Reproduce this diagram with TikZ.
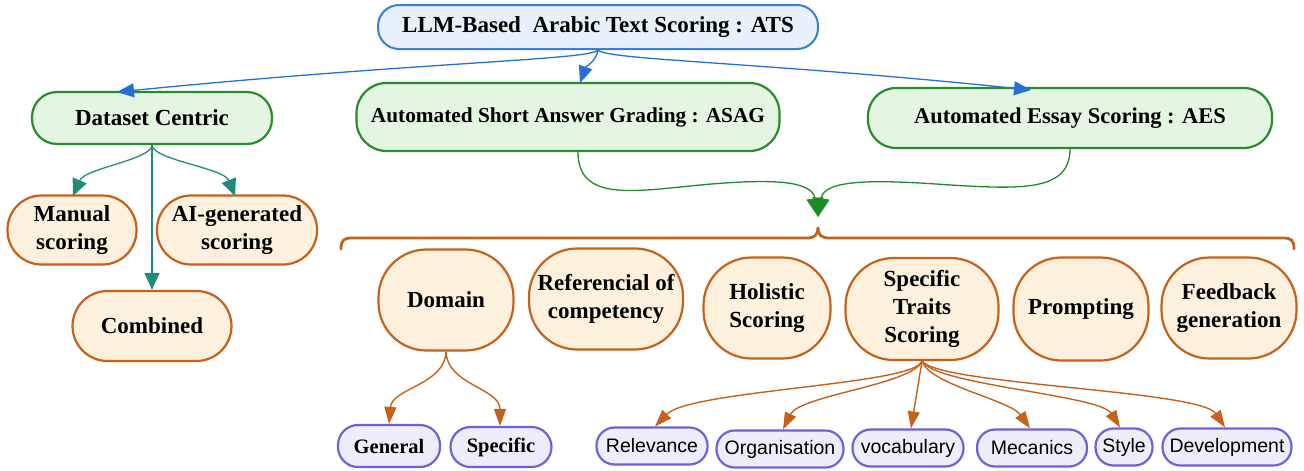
\documentclass[tikz,border=0pt]{standalone}
\usepackage{fontspec}
\setmainfont{Liberation Serif}
\newfontfamily\leaffont{Liberation Sans}
\usetikzlibrary{arrows.meta}
\definecolor{bluebd}{HTML}{3C7DD6}
\definecolor{bluefill}{HTML}{E8F1FB}
\definecolor{bluearr}{HTML}{2470D8}
\definecolor{greenbd}{HTML}{2A8A2E}
\definecolor{greenfill}{HTML}{E4F6E1}
\definecolor{greenarr}{HTML}{1F8A28}
\definecolor{tealarr}{HTML}{1E8C7C}
\definecolor{orangebd}{HTML}{C4621C}
\definecolor{orangefill}{HTML}{FDF0DC}
\definecolor{leafbd}{HTML}{6C63D8}
\definecolor{leaffill}{HTML}{EDEDFB}
\tikzset{
  atsbox/.style={draw=bluebd, fill=bluefill, line width=2pt, rounded corners=21pt,
    minimum width=440pt, minimum height=44pt, inner sep=0pt, font=\fontsize{23}{27}\selectfont\bfseries},
  greenbox/.style={draw=greenbd, fill=greenfill, line width=2.2pt, rounded corners=25pt,
    inner sep=0pt, font=\fontsize{23}{27}\selectfont\bfseries},
  orangebox/.style={draw=orangebd, fill=orangefill, line width=2.2pt,
    inner sep=0pt, align=center, font=\fontsize{23}{28}\selectfont\bfseries},
  leafbox/.style={draw=leafbd, fill=leaffill, line width=2.2pt, rounded corners=18pt,
    inner sep=0pt, minimum height=37pt},
  leafsans/.style={leafbox, font=\leaffont\fontsize{19.5}{22}\selectfont},
  leafserif/.style={leafbox, font=\fontsize{20.5}{22}\selectfont\bfseries},
  bluecon/.style={draw=bluearr, line width=1.3pt, -{Triangle[length=17pt,width=14pt]}},
  tealcon/.style={draw=tealarr, line width=1.3pt, -{Triangle[length=17pt,width=15pt]}},
  greencon/.style={draw=greenarr, line width=1.3pt, -{Triangle[length=19pt,width=17pt]}},
  orangecon/.style={draw=orangebd, line width=1.4pt, -{Triangle[length=17pt,width=12pt]}},
  bracestyle/.style={draw=orangebd, line width=2.8pt, line cap=round}
}
\begin{document}
\begin{tikzpicture}[x=1pt,y=-1pt]
\useasboundingbox (0,0) rectangle (1304,471);

% top level
\node[atsbox] (ats) at (598,27) {LLM-Based\ \ Arabic Text Scoring : ATS};
\node[greenbox, minimum width=240pt, minimum height=52pt] (dc) at (152,118) {Dataset Centric};
\node[greenbox, minimum width=423pt, minimum height=68pt, rounded corners=30pt,
  font=\fontsize{21.3}{26}\selectfont\bfseries] (asag) at (568,117) {Automated Short Answer Grading : ASAG};
\node[greenbox, minimum width=404pt, minimum height=60pt, rounded corners=28pt,
  font=\fontsize{22.5}{26}\selectfont\bfseries] (aes) at (1070,118) {Automated Essay Scoring : AES};

% dataset centric children
\node[orangebox, minimum width=129pt, minimum height=69pt, rounded corners=34pt] (man) at (72,230) {Manual\\scoring};
\node[orangebox, minimum width=160pt, minimum height=69pt, rounded corners=34pt] (aig) at (237,230) {AI-generated\\scoring};
\node[orangebox, minimum width=159pt, minimum height=70pt, rounded corners=35pt] (comb) at (152,326) {Combined};

% second group
\node[orangebox, minimum width=135pt, minimum height=101pt, rounded corners=48pt] (dom) at (446,300) {Domain};
\node[orangebox, minimum width=154pt, minimum height=101pt, rounded corners=48pt] (ref) at (606,299) {Referencial of\\competency};
\node[orangebox, minimum width=127pt, minimum height=101pt, rounded corners=48pt] (hol) at (767,308) {Holistic\\Scoring};
\node[orangebox, minimum width=153pt, minimum height=102pt, rounded corners=48pt] (sts) at (922,309) {Specific\\Traits\\Scoring};
\node[orangebox, minimum width=135pt, minimum height=103pt, rounded corners=48pt] (prm) at (1081,309) {Prompting};
\node[orangebox, minimum width=135pt, minimum height=101pt, rounded corners=48pt] (fbg) at (1229,308) {Feedback\\generation};

% leaves
\node[leafserif, minimum width=102pt, minimum height=42pt, rounded corners=20pt] (gen) at (389,446) {General};
\node[leafserif, minimum width=101pt, minimum height=40pt, rounded corners=20pt] (spe) at (501,447) {Specific};
\node[leafsans, minimum width=111pt] (rel) at (652,446) {Relevance};
\node[leafsans, minimum width=127pt] (org) at (780,449) {Organisation};
\node[leafsans, minimum width=111pt] (voc) at (908,448) {vocabulary};
\node[leafsans, minimum width=110pt] (mec) at (1032,448) {Mecanics};
\node[leafsans, minimum width=57pt] (sty) at (1124,447) {Style};
\node[leafsans, minimum width=129pt] (dev) at (1227,447) {Development};

% brace
\coordinate (brL) at (341,249);
\coordinate (brR) at (1294,249);
\coordinate (brM) at (818,227);
\draw[bracestyle] (brL) .. controls (341,240) and (344,238) .. (352,238)
  -- (806,238) .. controls (814,238) and (818,236) .. (brM)
  .. controls (818,236) and (822,238) .. (830,238)
  -- (1283,238) .. controls (1291,238) and (1294,240) .. (brR);
\coordinate (tip) at (818,217);

% connectors from ATS
\draw[bluecon] (ats.south) .. controls (592,60) and (420,62) .. (117,92);
\draw[bluecon] (ats.south) .. controls (596,62) and (586,66) .. (580,83);
\draw[bluecon] (ats.south) .. controls (606,60) and (760,62) .. (1031,90);

% dataset centric
\draw[tealcon] (dc.south) .. controls (151,160) and (85,168) .. (73,196);
\draw[tealcon] (dc.south) -- (comb.north);
\draw[tealcon] (dc.south) .. controls (153,160) and (224,168) .. (235,196);

% green merge
\draw[greencon] (asag.south -| 578,0) .. controls (578,200) and (630,192) .. (690,186)
  .. controls (770,178) and (812,180) .. (tip);
\draw[greencon] (aes.south -| 1070,0) .. controls (1070,192) and (1020,189) .. (950,185)
  .. controls (870,179) and (824,180) .. (tip);

% domain
\draw[orangecon] (dom.south) .. controls (445,385) and (392,388) .. (gen.north);
\draw[orangecon] (dom.south) .. controls (447,385) and (500,388) .. (spe.north -| 500,0);

% specific traits
\draw[orangecon] (sts.south) .. controls (915,385) and (690,390) .. (rel.north -| 655,0);
\draw[orangecon] (sts.south) .. controls (912,385) and (800,395) .. (org.north -| 783,0);
\draw[orangecon] (sts.south) -- (voc.north -| 911,0);
\draw[orangecon] (sts.south) .. controls (930,385) and (1010,400) .. (mec.north -| 1030,0);
\draw[orangecon] (sts.south) .. controls (935,385) and (1100,395) .. (sty.north -| 1120,0);
\draw[orangecon] (sts.south) .. controls (940,385) and (1200,390) .. (dev.north -| 1225,0);
\end{tikzpicture}
\end{document}
